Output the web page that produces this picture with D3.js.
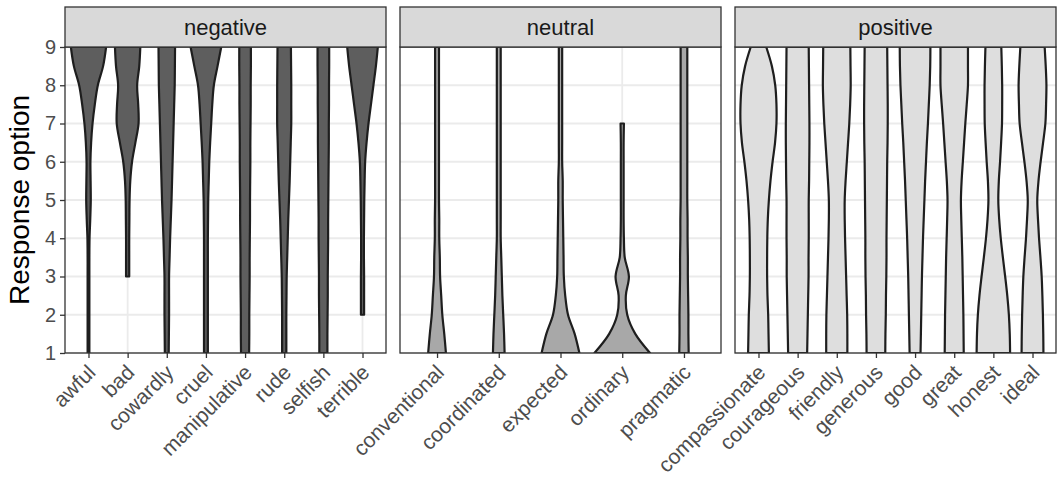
<!DOCTYPE html>
<html>
<head>
<meta charset="utf-8">
<script src="https://cdn.jsdelivr.net/npm/d3@7"></script>
<style>
  body { margin: 0; background: #fff; }
  text { font-family: "Liberation Sans", Arial, sans-serif; }
</style>
</head>
<body>
<script>
// response levels where violin half-widths were read (fraction of max half-width)
const yLevels = [9, 8.5, 8, 7.5, 7, 6.5, 6, 5.5, 5, 4.5, 4, 3.5, 3, 2.5, 2, 1.5, 1];
const yTicks = [1, 2, 3, 4, 5, 6, 7, 8, 9];

const negWords = ["awful", "bad", "cowardly", "cruel", "manipulative", "rude", "selfish", "terrible"];
const negWidths = [
  [1.0, 0.83, 0.53, 0.36, 0.23, 0.15, 0.11, 0.12, 0.13, 0.1, 0.06, 0.05, 0.05, 0.05, 0.05, 0.05, 0.05],
  [0.72, 0.66, 0.54, 0.6, 0.62, 0.44, 0.25, 0.15, 0.11, 0.1, 0.09, 0.09, 0.09, null, null, null, null],
  [0.47, 0.46, 0.45, 0.42, 0.39, 0.36, 0.33, 0.3, 0.27, 0.23, 0.19, 0.16, 0.13, 0.13, 0.13, 0.12, 0.11],
  [0.87, 0.66, 0.45, 0.36, 0.3, 0.24, 0.19, 0.16, 0.13, 0.12, 0.11, 0.11, 0.11, 0.11, 0.11, 0.11, 0.11],
  [0.33, 0.33, 0.32, 0.32, 0.31, 0.3, 0.3, 0.29, 0.28, 0.28, 0.27, 0.26, 0.26, 0.25, 0.24, 0.24, 0.23],
  [0.38, 0.39, 0.4, 0.4, 0.4, 0.37, 0.34, 0.31, 0.27, 0.23, 0.2, 0.17, 0.14, 0.13, 0.12, 0.12, 0.12],
  [0.33, 0.33, 0.32, 0.32, 0.31, 0.31, 0.3, 0.29, 0.28, 0.27, 0.27, 0.26, 0.25, 0.25, 0.24, 0.23, 0.23],
  [0.87, 0.76, 0.62, 0.48, 0.34, 0.23, 0.15, 0.12, 0.1, 0.09, 0.08, 0.08, 0.09, 0.09, 0.09, null, null]
];

const neuWords = ["conventional", "coordinated", "expected", "ordinary", "pragmatic"];
const neuWidths = [
  [0.07, 0.07, 0.07, 0.07, 0.07, 0.07, 0.07, 0.07, 0.07, 0.08, 0.08, 0.1, 0.11, 0.15, 0.19, 0.26, 0.32],
  [0.07, 0.07, 0.07, 0.07, 0.07, 0.07, 0.07, 0.07, 0.07, 0.07, 0.07, 0.09, 0.11, 0.13, 0.16, 0.19, 0.21],
  [0.06, 0.06, 0.06, 0.06, 0.06, 0.06, 0.06, 0.08, 0.08, 0.09, 0.1, 0.11, 0.12, 0.17, 0.27, 0.51, 0.68],
  [null, null, null, null, 0.06, 0.05, 0.05, 0.05, 0.05, 0.05, 0.06, 0.09, 0.24, 0.13, 0.18, 0.47, 1.0],
  [0.12, 0.12, 0.12, 0.12, 0.12, 0.12, 0.12, 0.12, 0.12, 0.13, 0.13, 0.14, 0.14, 0.15, 0.16, 0.16, 0.17]
];

const posWords = ["compassionate", "courageous", "friendly", "generous", "good", "great", "honest", "ideal"];
const posWidths = [
  [0.44, 0.76, 0.95, 1.02, 1.02, 0.94, 0.8, 0.68, 0.59, 0.53, 0.5, 0.49, 0.49, 0.51, 0.55, 0.57, 0.59],
  [0.63, 0.64, 0.65, 0.66, 0.67, 0.67, 0.66, 0.65, 0.63, 0.63, 0.63, 0.62, 0.62, 0.6, 0.58, 0.56, 0.54],
  [0.77, 0.78, 0.79, 0.76, 0.71, 0.64, 0.57, 0.5, 0.45, 0.45, 0.47, 0.5, 0.53, 0.56, 0.59, 0.6, 0.6],
  [0.64, 0.65, 0.66, 0.67, 0.67, 0.66, 0.64, 0.63, 0.62, 0.61, 0.6, 0.6, 0.59, 0.57, 0.56, 0.54, 0.53],
  [0.87, 0.86, 0.83, 0.78, 0.73, 0.67, 0.62, 0.57, 0.53, 0.49, 0.45, 0.42, 0.39, 0.37, 0.35, 0.33, 0.31],
  [0.78, 0.78, 0.78, 0.71, 0.63, 0.56, 0.49, 0.42, 0.38, 0.4, 0.43, 0.46, 0.48, 0.5, 0.52, 0.53, 0.54],
  [0.45, 0.48, 0.5, 0.5, 0.49, 0.44, 0.38, 0.31, 0.28, 0.33, 0.42, 0.54, 0.67, 0.79, 0.88, 0.93, 0.95],
  [0.69, 0.75, 0.79, 0.77, 0.73, 0.6, 0.46, 0.34, 0.27, 0.31, 0.37, 0.45, 0.52, 0.56, 0.59, 0.61, 0.62]
];

const panels = [
  { name: "negative", words: negWords, widths: negWidths, fill: "#5e5e5e" },
  { name: "neutral", words: neuWords, widths: neuWidths, fill: "#a8a8a8" },
  { name: "positive", words: posWords, widths: posWidths, fill: "#dedede" }
];

const W = 1061, H = 486;
const left = 65, panelW = 321, gap = 14;
const plotTop = 47, plotBottom = 353, stripH = 40;

const svg = d3.select("body").append("svg")
  .attr("width", W).attr("height", H);

const y = d3.scaleLinear().domain([1, 9]).range([plotBottom, plotTop]);

panels.forEach((p, i) => {
  const x0 = left + i * (panelW + gap);
  const x = d3.scalePoint().domain(p.words).range([x0, x0 + panelW]).padding(0.6);
  const half = 0.45 * x.step();

  const g = svg.append("g");

  // grid
  g.selectAll(".hgrid").data(yTicks).enter().append("line")
    .attr("x1", x0).attr("x2", x0 + panelW)
    .attr("y1", d => y(d)).attr("y2", d => y(d))
    .attr("stroke", "#ebebeb").attr("stroke-width", 1.8);
  g.selectAll(".vgrid").data(p.words).enter().append("line")
    .attr("x1", d => x(d)).attr("x2", d => x(d))
    .attr("y1", plotTop).attr("y2", plotBottom)
    .attr("stroke", "#ebebeb").attr("stroke-width", 1.8);

  // violins
  svg.append("clipPath").attr("id", "clip" + i)
    .append("rect").attr("x", x0).attr("y", plotTop).attr("width", panelW).attr("height", plotBottom - plotTop);

  const vg = g.append("g").attr("clip-path", `url(#clip${i})`);
  p.words.forEach((w, j) => {
    const pts = yLevels.map((lv, k) => ({ lv, v: p.widths[j][k] })).filter(d => d.v != null);
    const cx = x(w);
    const area = d3.area()
      .y(d => y(d.lv))
      .x0(d => cx - d.v * half)
      .x1(d => cx + d.v * half)
      .curve(d3.curveCatmullRom.alpha(0.5));
    vg.append("path")
      .attr("d", area(pts))
      .attr("fill", p.fill)
      .attr("stroke", "#1e1e1e")
      .attr("stroke-width", 2.2)
      .attr("stroke-linejoin", "round");
  });

  // panel border
  g.append("rect")
    .attr("x", x0).attr("y", plotTop).attr("width", panelW).attr("height", plotBottom - plotTop)
    .attr("fill", "none").attr("stroke", "#333").attr("stroke-width", 1.3);

  // strip
  g.append("rect")
    .attr("x", x0).attr("y", plotTop - stripH).attr("width", panelW).attr("height", stripH)
    .attr("fill", "#d9d9d9").attr("stroke", "#333").attr("stroke-width", 1.3);
  g.append("text")
    .attr("x", x0 + panelW / 2).attr("y", plotTop - stripH / 2)
    .attr("text-anchor", "middle").attr("dominant-baseline", "central")
    .attr("font-size", 22).attr("fill", "#1a1a1a")
    .text(p.name);

  // x axis
  const xa = svg.append("g")
    .attr("transform", `translate(0,${plotBottom})`)
    .call(d3.axisBottom(x).tickSize(5).tickPadding(0));
  xa.select(".domain").remove();
  xa.selectAll(".tick line").attr("stroke", "#333").attr("stroke-width", 1.3);
  xa.selectAll(".tick text")
    .attr("font-size", 21).attr("fill", "#4d4d4d")
    .attr("text-anchor", "end")
    .attr("x", 0).attr("y", 0).attr("dy", null)
    .attr("transform", "translate(-3,10) rotate(-45)")
    .attr("dominant-baseline", "hanging");
});

// y axis
const ya = svg.append("g")
  .attr("transform", `translate(${left},0)`)
  .call(d3.axisLeft(y).tickValues(yTicks).tickSize(5).tickPadding(4));
ya.select(".domain").remove();
ya.selectAll(".tick line").attr("stroke", "#333").attr("stroke-width", 1.3);
ya.selectAll(".tick text").attr("font-size", 20).attr("fill", "#4d4d4d");

svg.append("text")
  .attr("transform", `translate(19,${(plotTop + plotBottom) / 2}) rotate(-90)`)
  .attr("text-anchor", "middle").attr("dominant-baseline", "central")
  .attr("font-size", 28).attr("fill", "#000")
  .text("Response option");
</script>
</body>
</html>
